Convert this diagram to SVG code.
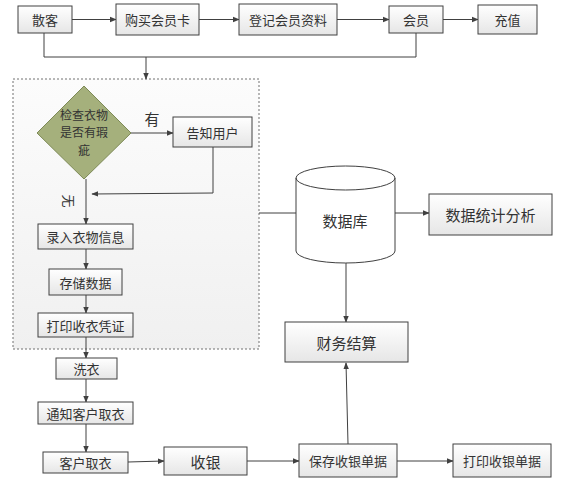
<svg xmlns="http://www.w3.org/2000/svg" width="561" height="483" viewBox="0 0 561 483">
<defs>
<linearGradient id="box" x1="0" y1="0" x2="0" y2="1">
<stop offset="0" stop-color="#ffffff"/>
<stop offset="1" stop-color="#e6e6e6"/>
</linearGradient>
<linearGradient id="cont" x1="0" y1="0" x2="0" y2="1">
<stop offset="0" stop-color="#fcfcfc"/>
<stop offset="1" stop-color="#f0f0f0"/>
</linearGradient>
<marker id="arr" viewBox="0 0 10 10" refX="9" refY="5" markerWidth="7" markerHeight="7" orient="auto" markerUnits="userSpaceOnUse">
<path d="M0,1 L10,5 L0,9 z" fill="#404040"/>
</marker>
</defs>
<style>
.b{fill:url(#box);stroke:#404040;stroke-width:1}
.t{font-family:"Noto Sans CJK SC","Liberation Sans",sans-serif;font-size:13px;fill:#333;text-anchor:middle;dominant-baseline:central}
.L{font-size:15px}
.s{font-size:12px}
.c{fill:none;stroke:#404040;stroke-width:1}
.a{marker-end:url(#arr)}
</style>
<rect width="561" height="483" fill="#ffffff"/>
<g id="container">
<rect x="13" y="79" width="246" height="270" fill="url(#cont)" stroke="#707070" stroke-dasharray="2,2"/>
</g>
<g id="connectors">
<line class="c a" x1="72" y1="19.5" x2="116" y2="19.5"/>
<line class="c a" x1="199" y1="19.5" x2="239" y2="19.5"/>
<line class="c a" x1="337" y1="19.5" x2="389" y2="19.5"/>
<line class="c a" x1="443" y1="19.5" x2="478" y2="19.5"/>
<polyline class="c" points="44,33 44,57 416,57 416,33"/>
<line class="c a" x1="146" y1="57" x2="146" y2="79"/>
<line class="c a" x1="131" y1="133" x2="173" y2="133"/>
<polyline class="c a" points="213,147 213,193 92,194"/>
<line class="c a" x1="86" y1="179" x2="86" y2="224"/>
<line class="c a" x1="86" y1="249" x2="86" y2="269"/>
<line class="c a" x1="86" y1="295" x2="86" y2="313"/>
<line class="c a" x1="86" y1="337" x2="86" y2="358"/>
<line class="c a" x1="86" y1="379" x2="86" y2="402"/>
<line class="c a" x1="86" y1="424" x2="86" y2="452"/>
<line class="c a" x1="128" y1="462" x2="164" y2="461"/>
<line class="c a" x1="247" y1="461" x2="299" y2="461"/>
<line class="c a" x1="397" y1="461" x2="453" y2="461"/>
<line class="c a" x1="348" y1="444" x2="346" y2="363"/>
<line class="c" x1="259" y1="213" x2="296" y2="213"/>
<line class="c a" x1="395" y1="213" x2="429" y2="213"/>
<line class="c a" x1="346" y1="263" x2="346" y2="322"/>
</g>
<g id="n-sanke"><rect class="b" x="18" y="6" width="54" height="27"/><text class="t" x="45" y="19.5">散客</text></g>
<g id="n-buy"><rect class="b" x="116" y="4" width="83" height="31"/><text class="t" x="157.5" y="19.5">购买会员卡</text></g>
<g id="n-reg"><rect class="b" x="239" y="4" width="98" height="31"/><text class="t" x="288" y="19.5">登记会员资料</text></g>
<g id="n-member"><rect class="b" x="389" y="6" width="54" height="27"/><text class="t" x="416" y="19.5">会员</text></g>
<g id="n-charge"><rect class="b" x="478" y="5" width="59" height="29"/><text class="t" x="507.5" y="19.5">充值</text></g>
<g id="n-check">
<polygon points="84,86 131,133 84,179 37,133" fill="#a5b07c" stroke="#7d8a56"/>
<text class="t s" x="84" y="114">检查衣物</text>
<text class="t s" x="84" y="131.5">是否有瑕</text>
<text class="t s" x="84" y="149">疵</text>
</g>
<g id="lbl-you"><text class="t L" x="152" y="118">有</text></g>
<g id="lbl-wu"><text class="t" x="0" y="0" transform="translate(69,201) rotate(90)">无</text></g>
<g id="n-notify"><rect class="b" x="173" y="117" width="79" height="30"/><text class="t" x="212.5" y="132">告知用户</text></g>
<g id="n-input"><rect class="b" x="38" y="224" width="95" height="25"/><text class="t" x="85.5" y="236.5">录入衣物信息</text></g>
<g id="n-store"><rect class="b" x="49" y="269" width="73" height="26"/><text class="t" x="85.5" y="282">存储数据</text></g>
<g id="n-print"><rect class="b" x="38" y="313" width="95" height="24"/><text class="t" x="85.5" y="325">打印收衣凭证</text></g>
<g id="n-wash"><rect class="b" x="56" y="358" width="61" height="21"/><text class="t" x="86.5" y="368.5">洗衣</text></g>
<g id="n-inform"><rect class="b" x="38" y="402" width="95" height="22"/><text class="t" x="85.5" y="413">通知客户取衣</text></g>
<g id="n-pick"><rect class="b" x="43" y="452" width="85" height="21"/><text class="t" x="85.5" y="462.5">客户取衣</text></g>
<g id="n-cash"><rect class="b" x="164" y="447" width="83" height="28"/><text class="t L" x="205.5" y="461">收银</text></g>
<g id="n-save"><rect class="b" x="299" y="444" width="98" height="33"/><text class="t" x="348" y="460.5">保存收银单据</text></g>
<g id="n-printbill"><rect class="b" x="453" y="444" width="98" height="33"/><text class="t" x="502" y="460.5">打印收银单据</text></g>
<g id="n-finance"><rect class="b" x="285" y="322" width="123" height="40"/><text class="t L" x="346.5" y="342">财务结算</text></g>
<g id="n-db">
<path d="M296,178 L296,251 A49.5,12 0 0 0 395,251 L395,178 A49.5,12 0 0 0 296,178 Z" fill="#ffffff" stroke="#404040"/>
<path d="M296,178 A49.5,12 0 0 0 395,178" fill="none" stroke="#404040"/>
<text class="t L" x="345" y="220">数据库</text>
</g>
<g id="n-stats"><rect class="b" x="429" y="194" width="123" height="41"/><text class="t L" x="490.5" y="214.5">数据统计分析</text></g>
</svg>
